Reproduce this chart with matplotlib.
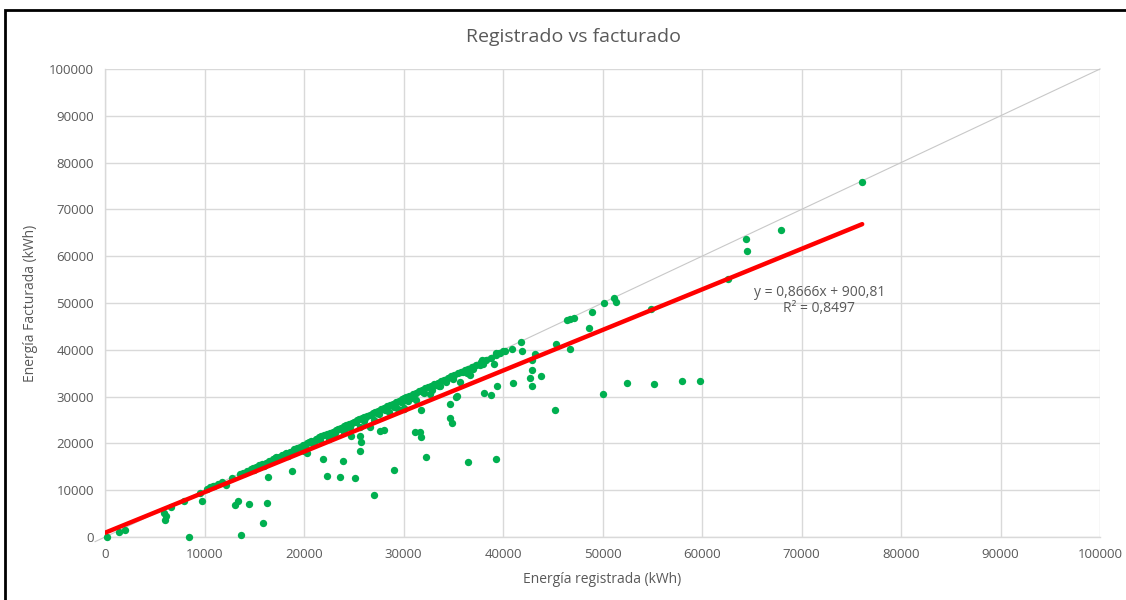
import numpy as np
import matplotlib.pyplot as plt
from matplotlib.patches import Rectangle

# Energía registrada (x) y facturada (y), kWh
registrado = [
    200, 1400, 2000, 5900, 6000, 6100, 6600, 7900, 8400, 9500, 9700, 10300, 10600,
    11400, 11800, 12200, 13100, 13400, 13700, 14500, 15900, 16300, 16400, 18800,
    21900, 22300, 23600, 23900, 25100, 25600, 25700, 25600, 24700, 27000, 29000,
    27600, 28000, 26600, 20300,
    31200, 31700, 31800, 32300, 36500, 39300, 34700, 34900, 34700, 31800, 35400,
    38100, 38800, 39400, 41000, 42700, 42900, 43800, 42900, 42900, 43200, 45200,
    45300, 46700, 46400, 46700, 47100, 48600, 48900, 50200, 51200, 51400, 50000,
    52500, 55200, 58000, 59800, 54900, 62600, 64400, 64500, 67900, 76100,
    41800, 41900, 40900, 40000, 39600, 39300, 39100, 37900, 37700, 35700,
    13600, 13900, 14300, 14700, 14900, 15200, 15500, 15800, 16200, 16500, 16900,
    17200, 17500, 17800, 18100, 18400, 18200, 19000, 19300, 19600, 19900, 20300,
    20500, 20700, 21000, 21200, 21500, 21700, 22000, 22300, 22600, 22900, 23200,
    23400, 23700, 24000, 24200, 24500, 24800, 25000, 25300, 25500, 25800, 26000,
    26300, 26600, 26900, 27100, 27400, 27700, 28000, 28300, 28600, 28900, 29200,
    29500, 29800, 30100, 30300, 30600, 31000, 31300, 31600, 31900, 32200, 32500,
    32800, 33100, 33500, 33800, 34100, 34500, 34800, 35100, 35500, 35800, 36200,
    36500, 36900, 37300, 37800, 38300, 38800, 39300, 39700, 40200,
    20000, 21000, 22500, 24000, 25600, 27000, 28500, 29400, 30100, 31300, 32700,
    33700, 35300, 36700, 20800, 21400, 22800, 23500, 24300, 25200, 26100, 27300,
    28100, 29100, 29900, 30800, 32000, 33300, 34300, 35000, 36000, 37000, 38000,
    12800, 11000, 10900, 17100, 18600,
    14100, 15000, 16000, 17400, 18900, 20100, 21600, 23100, 24600, 26000, 27500,
    29000, 30500, 32100, 33600, 35000, 36400, 30000, 29700, 32900,
]
facturado = [
    0, 1000, 1400, 5100, 3600, 4500, 6400, 7700, 0, 9400, 7700, 10200, 10600,
    11300, 11700, 11100, 6800, 7700, 400, 7000, 3000, 7300, 12800, 14100,
    16700, 13000, 12800, 16300, 12600, 18400, 20200, 21600, 21600, 9000, 14400,
    22700, 22900, 23400, 17900,
    22400, 22500, 21400, 17200, 16000, 16600, 25400, 24400, 28400, 27200, 30100,
    30700, 30400, 32300, 32800, 34000, 32200, 34300, 35700, 37800, 39000, 27100,
    41200, 40100, 46400, 46600, 46700, 44700, 48100, 50100, 51000, 50200, 30600,
    33000, 32600, 33300, 33300, 48700, 55100, 63600, 61100, 65500, 75800,
    41700, 39700, 40200, 39800, 39300, 39400, 36900, 37800, 36800, 33200,
    13400, 13700, 14200, 14500, 14800, 15000, 15300, 15600, 15900, 16300, 16700,
    17000, 17200, 17600, 17700, 17400, 17900, 18700, 19000, 19300, 19700, 20000,
    20400, 20600, 20500, 20900, 21300, 21500, 21700, 22100, 22300, 22500, 22800,
    23000, 23300, 23700, 24000, 24200, 24400, 24500, 24900, 25200, 25400, 25600,
    25900, 26100, 26500, 26700, 27000, 27300, 27500, 27900, 28200, 28500, 28800,
    29100, 29400, 29700, 29900, 30200, 30500, 30800, 31100, 31500, 31800, 32000,
    32300, 32600, 33000, 33300, 33600, 34000, 34300, 34600, 35000, 35300, 35700,
    36000, 36400, 36800, 37400, 37800, 38300, 38900, 39300, 39700,
    18400, 19800, 21000, 22500, 23600, 25000, 26800, 27400, 27600, 29300, 30600,
    32300, 30000, 34700, 20100, 20900, 22100, 23000, 23600, 24600, 25500, 26600,
    27200, 28400, 29000, 29800, 31000, 32400, 33200, 34100, 35200, 35900, 37000,
    12700, 11000, 10800, 16900, 18200,
    13600, 14400, 15200, 16700, 18300, 19300, 20700, 22200, 23500, 24800, 26200,
    27700, 29100, 30800, 32200, 33700, 35100, 27400, 28800, 31400,
]

# tendencia lineal mostrada en el gráfico
pendiente = 0.8666
ordenada = 900.81
r2 = 0.8497

ticks = np.arange(0, 100001, 10000)
gris = '#595959'

plt.rcParams['font.family'] = ['Open Sans', 'DejaVu Sans']

fig = plt.figure(figsize=(11.26, 6), dpi=100)
ax = fig.add_axes([105 / 1126, 63 / 600, 995 / 1126, 468 / 600])

# línea y = x
ax.plot([-1000, 100000], [-1000, 100000], color='#C8C8C8', lw=0.8, zorder=1,
        clip_on=False)

ax.scatter(registrado, facturado, s=28, color='#00B050', zorder=3, linewidths=0,
           clip_on=False)

x_tend = np.array([0, max(registrado)])
ax.plot(x_tend, pendiente * x_tend + ordenada, color='#FF0000', lw=3.2,
        solid_capstyle='round', zorder=4)

ax.text(0.718, 0.505, 'y = 0,8666x + 900,81\nR² = 0,%d' % round(r2 * 10000),
        transform=ax.transAxes, ha='center', va='center', fontsize=10,
        color=gris, linespacing=1.15, zorder=5)

ax.set_xlim(0, 100000)
ax.set_ylim(0, 100000)
ax.set_xticks(ticks)
ax.set_yticks(ticks)
ax.tick_params(length=0, colors=gris, labelsize=9.5, pad=8)
ax.grid(True, color='#D9D9D9', lw=1)
ax.set_axisbelow(True)
for s in ['top', 'right']:
    ax.spines[s].set_visible(False)
for s in ['left', 'bottom']:
    ax.spines[s].set_color('#D9D9D9')
    ax.spines[s].set_linewidth(1)

ax.set_xlabel('Energía registrada (kWh)', color=gris, fontsize=10, labelpad=8)
ax.set_ylabel('Energía Facturada (kWh)', color=gris, fontsize=10, labelpad=8)
fig.text(573 / 1126, 1 - 37 / 600, 'Registrado vs facturado', ha='center', va='center',
         fontsize=14, color=gris)

# marco negro del gráfico (cortado a la derecha y abajo)
fig.patches.append(Rectangle((5 / 1126, -0.05), 1.1, 1 - 10 / 600 + 0.05,
                             transform=fig.transFigure, fill=False,
                             edgecolor='black', lw=2))

fig.savefig('out.png', dpi=100, facecolor='white')
